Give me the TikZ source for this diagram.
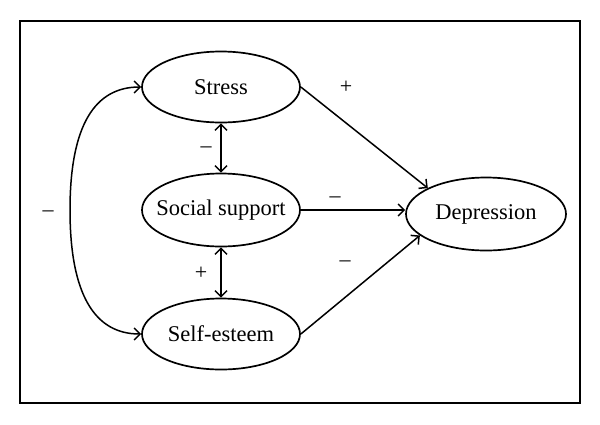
\documentclass[tikz,border=0pt]{standalone}
\usepackage{fontspec}
\setmainfont{Liberation Serif}
\usetikzlibrary{shapes.geometric,arrows.meta}
\begin{document}
\begin{tikzpicture}[x=1pt,y=-1pt,
  var/.style={ellipse,draw,line width=1.7pt,inner sep=0pt,minimum width=158pt,minimum height=71pt,font=\fontsize{22.5}{27}\selectfont},
  tip/.style={Straight Barb[length=6pt,width=12pt,line width=1.5pt]},
  conn/.style={line width=1.5pt,-{Straight Barb[length=6pt,width=12pt,line width=1.5pt]}},
  biconn/.style={line width=1.5pt,{Straight Barb[length=6pt,width=12pt,line width=1.5pt]}-{Straight Barb[length=6pt,width=12pt,line width=1.5pt]}},
  sign/.style={font=\fontsize{22}{26}\selectfont,inner sep=0pt}]
\useasboundingbox (0,0) rectangle (600,424);
\draw[line width=2.2pt] (20,21) rectangle (580,403);
\node[var] (st) at (221,87) {\makebox[0pt][c]{Stress}};
\node[var,minimum height=73pt] (ss) at (221,210) {\makebox[0pt][c]{Social support}};
\node[var] (se) at (221,334) {\makebox[0pt][c]{Self-esteem}};
\node[var,minimum width=160pt,minimum height=73pt] (dep) at (486,214) {\makebox[0pt][c]{Depression}};
\draw[conn] (st.east) -- (dep.156);
\draw[conn] (ss.east) -- (dep.west |- ss.east);
\draw[conn] (se.east) -- (dep.198);
\draw[biconn] (st.south) -- (ss.north);
\draw[biconn] (ss.south) -- (se.north);
\draw[biconn]
  (st.west) .. controls (95,87) and (70,125) .. (70,210) .. controls (70,295) and (95,334) .. (se.west);
\node[sign] (l1) at (48,214) {–};
\node[sign] (l2) at (206,150) {–};
\node[sign] (l3) at (201,273) {+};
\node[sign] (l4) at (346,87) {+};
\node[sign] (l5) at (335,200) {–};
\node[sign] (l6) at (345,264) {–};
\end{tikzpicture}
\end{document}
